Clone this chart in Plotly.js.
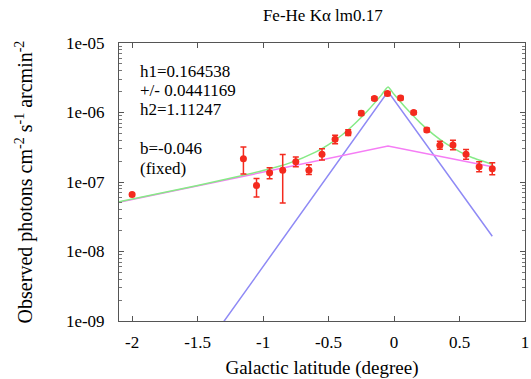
<!DOCTYPE html>
<html>
<head>
<meta charset="utf-8">
<script src="https://cdn.plot.ly/plotly-3.0.1.min.js"></script>
<style>html,body{margin:0;padding:0;background:#fff;}#chart{width:531px;height:379px;}</style>
</head>
<body>
<div id="chart"></div>
<script>
// Observed data
var latitude = [-2.0, -1.15, -1.05, -0.95, -0.85, -0.75, -0.65, -0.55, -0.45, -0.35, -0.25, -0.15, -0.05, 0.05, 0.15, 0.25, 0.35, 0.45, 0.55, 0.65, 0.75];
var photons = [6.6e-8, 2.16e-7, 8.9e-8, 1.36e-7, 1.48e-7, 1.96e-7, 1.47e-7, 2.5e-7, 4.11e-7, 5.13e-7, 9.75e-7, 1.59e-6, 1.87e-6, 1.62e-6, 1.0e-6, 5.6e-7, 3.37e-7, 3.4e-7, 2.5e-7, 1.66e-7, 1.55e-7];
var errPlus = [3e-9, 1.04e-7, 2.3e-8, 2.4e-8, 1.0e-7, 3.2e-8, 3.0e-8, 5.0e-8, 6.0e-8, 5.3e-8, 6.5e-8, 1.0e-7, 1.2e-7, 1.0e-7, 6e-8, 4e-8, 4.8e-8, 6e-8, 4.4e-8, 3e-8, 3.4e-8];
var errMinus = [3e-9, 8.6e-8, 2.8e-8, 2.5e-8, 9.8e-8, 3.0e-8, 1.9e-8, 4.3e-8, 5.5e-8, 4.8e-8, 6.0e-8, 9e-8, 1.1e-7, 9e-8, 5.5e-8, 3.6e-8, 4.2e-8, 5e-8, 3.8e-8, 2.5e-8, 2.8e-8];

// Model components
var narrowX = [-2.1, -0.046, 0.75];
var narrowY = [7.6e-12, 2.0e-6, 1.66e-8];
var broadX = [-2.1, -0.046, 0.75];
var broadY = [5.1e-8, 3.29e-7, 1.66e-7];
var totalX = [-2.1, -1.5, -1.2, -1.0, -0.8, -0.6, -0.5, -0.4, -0.3, -0.2, -0.1, -0.046, 0.0, 0.1, 0.2, 0.3, 0.4, 0.5, 0.6, 0.75];
var totalY = [5.2e-8, 8.9e-8, 1.19e-7, 1.46e-7, 1.87e-7, 2.69e-7, 3.46e-7, 4.71e-7, 6.9e-7, 1.07e-6, 1.75e-6, 2.33e-6, 1.83e-6, 1.11e-6, 7.1e-7, 4.85e-7, 3.53e-7, 2.74e-7, 2.23e-7, 1.8e-7];

var yTickVals = [1e-9, 1e-8, 1e-7, 1e-6, 1e-5];
var yTickText = ['1e-09', '1e-08', '1e-07', '1e-06', '1e-05'];
var xTickVals = [-2, -1.5, -1, -0.5, 0, 0.5, 1];
var xTickText = ['-2', '-1.5', '-1', '-0.5', '0', '0.5', '1'];

var infoLines = ['h1=0.164538', '+/- 0.0441169', 'h2=1.11247', 'b=-0.046', '(fixed)'];
var infoY = [0.897, 0.828, 0.759, 0.622, 0.55];

var minorVals = [];
for (var e = -9; e < -5; e++) {
  for (var m = 2; m <= 9; m++) minorVals.push(m * Math.pow(10, e));
}

var font = '"Liberation Serif"';

var traces = [
  {x: narrowX, y: narrowY, mode: 'lines', line: {color: '#8f8af5', width: 1.5}, hoverinfo: 'skip'},
  {x: broadX, y: broadY, mode: 'lines', line: {color: '#f57df5', width: 1.5}, hoverinfo: 'skip'},
  {x: totalX, y: totalY, mode: 'lines', line: {color: '#86ea86', width: 1.5, shape: 'spline', smoothing: 0.5}, hoverinfo: 'skip'},
  {x: latitude, y: photons, mode: 'markers',
   marker: {color: '#f42a1e', size: 7},
   error_y: {type: 'data', symmetric: false, array: errPlus, arrayminus: errMinus, color: '#f42a1e', thickness: 1.5, width: 3}}
];

var annotations = infoLines.map(function (t, i) {
  return {text: t, xref: 'paper', yref: 'paper', x: 0.047, y: infoY[i], xanchor: 'left', yanchor: 'middle',
          showarrow: false, font: {family: font, size: 17, color: '#000'}};
});

var layout = {
  width: 531, height: 379,
  margin: {l: 119, r: 6, t: 43, b: 58},
  paper_bgcolor: '#fff', plot_bgcolor: '#fff',
  showlegend: false,
  font: {family: font, size: 17, color: '#000'},
  title: {text: 'Fe-He Kα lm0.17', font: {family: font, size: 17}, x: 0.608, xanchor: 'center', y: 0.96, yanchor: 'middle'},
  xaxis: {
    range: [-2.1, 1.0], tickmode: 'array', tickvals: xTickVals, ticktext: xTickText,
    ticks: 'inside', ticklen: 5, tickcolor: '#555', mirror: 'allticks', showline: true, linecolor: '#555', linewidth: 1,
    showgrid: false, zeroline: false, ticklabelstandoff: 6,
    title: {text: 'Galactic latitude (degree)', font: {family: font, size: 19}, standoff: 11}
  },
  yaxis: {
    type: 'log', range: [-9, -5], tickmode: 'array', tickvals: yTickVals, ticktext: yTickText,
    ticks: 'inside', ticklen: 5, tickcolor: '#555', mirror: 'allticks', showline: true, linecolor: '#555', linewidth: 1,
    showgrid: false, zeroline: false, ticklabelstandoff: 10,
    minor: {tickmode: 'array', tickvals: minorVals, ticks: 'inside', ticklen: 3, tickcolor: '#777', showgrid: false},
    title: {text: 'Observed photons cm<sup>-2</sup> s<sup>-1</sup> arcmin<sup>-2</sup>', font: {family: font, size: 20}, standoff: 27}
  },
  annotations: annotations
};

Plotly.newPlot('chart', traces, layout, {displayModeBar: false, staticPlot: true});
</script>
</body>
</html>
